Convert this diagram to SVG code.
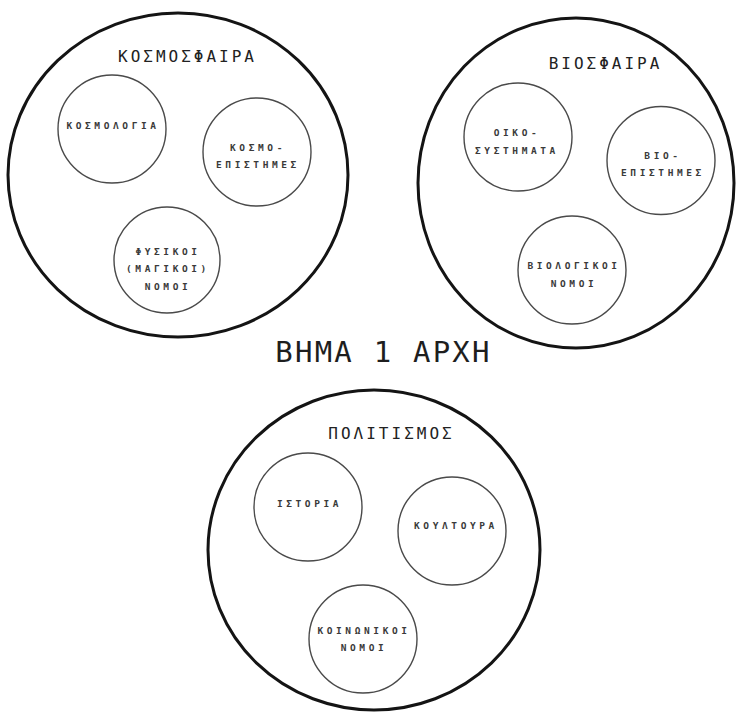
<svg xmlns="http://www.w3.org/2000/svg" width="736" height="713" viewBox="0 0 736 713">
  <style>
    .sphere { fill: none; stroke: #141414; stroke-width: 3; }
    .topic { fill: none; stroke: #4a4a4a; stroke-width: 1.4; }
    text { font-family: "DejaVu Sans Mono", "Liberation Mono", monospace; text-anchor: middle; }
    .title { font-size: 16px; letter-spacing: 3px; fill: #222; }
    .label { font-size: 9.5px; font-weight: bold; letter-spacing: 3.6px; fill: #3a3a3a; }
    .heading { font-size: 29px; letter-spacing: 2.2px; fill: #1e1e1e; }
  </style>
  <rect width="736" height="713" fill="#ffffff"/>

  <!-- Cosmosphere -->
  <g id="kosmosfaira">
    <ellipse class="sphere" cx="178" cy="175" rx="170" ry="162"/>
    <text class="title" x="187.5" y="62">ΚΟΣΜΟΣΦΑΙΡΑ</text>
  </g>
  <g id="kosmologia">
    <circle class="topic" cx="112" cy="129" r="54"/>
    <text class="label" x="113" y="128.5">ΚΟΣΜΟΛΟΓΙΑ</text>
  </g>
  <g id="kosmoepistimes">
    <circle class="topic" cx="257" cy="152" r="54"/>
    <text class="label" x="258" y="150.5">ΚΟΣΜΟ-</text>
    <text class="label" x="258" y="168">ΕΠΙΣΤΗΜΕΣ</text>
  </g>
  <g id="fysikoi-nomoi">
    <circle class="topic" cx="167" cy="260" r="53"/>
    <text class="label" x="168" y="255">ΦΥΣΙΚΟΙ</text>
    <text class="label" x="168" y="272">(ΜΑΓΙΚΟΙ)</text>
    <text class="label" x="168" y="290">ΝΟΜΟΙ</text>
  </g>

  <!-- Biosphere -->
  <g id="biosfaira">
    <ellipse class="sphere" cx="576" cy="183" rx="158" ry="165"/>
    <text class="title" x="605.5" y="69">ΒΙΟΣΦΑΙΡΑ</text>
  </g>
  <g id="oikosystimata">
    <circle class="topic" cx="518" cy="137" r="54"/>
    <text class="label" x="517" y="135.5">ΟΙΚΟ-</text>
    <text class="label" x="517" y="153.5">ΣΥΣΤΗΜΑΤΑ</text>
  </g>
  <g id="bioepistimes">
    <circle class="topic" cx="661" cy="160.5" r="54"/>
    <text class="label" x="663" y="158.5">ΒΙΟ-</text>
    <text class="label" x="663" y="176">ΕΠΙΣΤΗΜΕΣ</text>
  </g>
  <g id="biologikoi-nomoi">
    <circle class="topic" cx="572" cy="270" r="54"/>
    <text class="label" x="574" y="268.5">ΒΙΟΛΟΓΙΚΟΙ</text>
    <text class="label" x="574" y="286.5">ΝΟΜΟΙ</text>
  </g>

  <!-- Step heading -->
  <g id="vima">
    <text class="heading" x="383.5" y="362">ΒΗΜΑ 1 ΑΡΧΗ</text>
  </g>

  <!-- Culture -->
  <g id="politismos">
    <ellipse class="sphere" cx="374" cy="550" rx="166" ry="160"/>
    <text class="title" x="391.5" y="439">ΠΟΛΙΤΙΣΜΟΣ</text>
  </g>
  <g id="istoria">
    <circle class="topic" cx="308" cy="507" r="54"/>
    <text class="label" x="309.5" y="506.5">ΙΣΤΟΡΙΑ</text>
  </g>
  <g id="koultoura">
    <circle class="topic" cx="452" cy="531" r="54"/>
    <text class="label" x="456" y="528.5">ΚΟΥΛΤΟΥΡΑ</text>
  </g>
  <g id="koinonikoi-nomoi">
    <circle class="topic" cx="363" cy="639" r="54"/>
    <text class="label" x="364" y="633.5">ΚΟΙΝΩΝΙΚΟΙ</text>
    <text class="label" x="364" y="650.5">ΝΟΜΟΙ</text>
  </g>

  <!-- No connectors in this diagram -->
  <g id="connectors"/>
</svg>
